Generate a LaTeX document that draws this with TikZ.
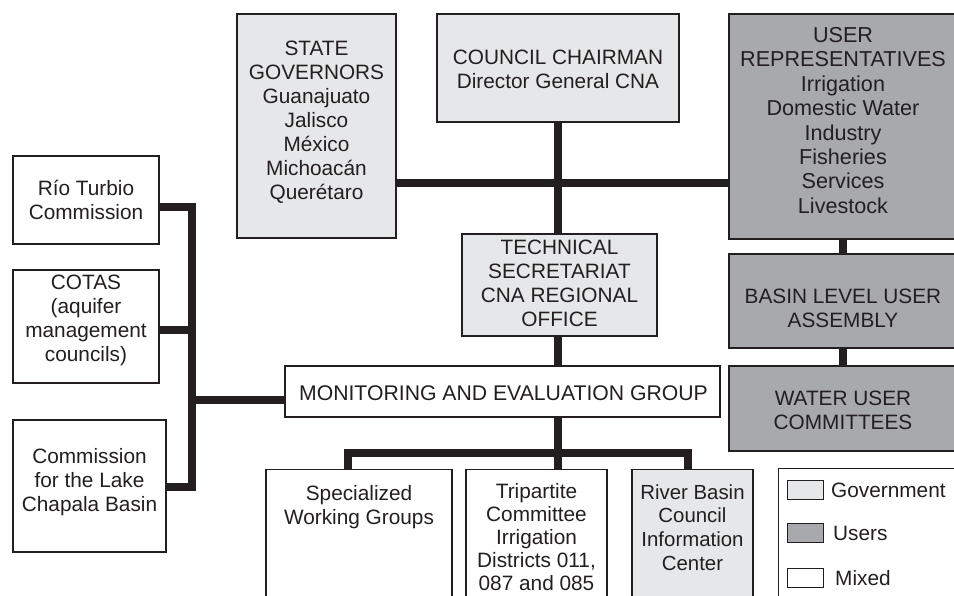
\documentclass[tikz,border=0pt]{standalone}
\usepackage{fontspec}
\setmainfont{Liberation Sans}
\definecolor{govfill}{HTML}{E6E7E8}
\definecolor{userfill}{HTML}{A7A9AC}
\definecolor{ink}{HTML}{231F20}
\begin{document}
\begin{tikzpicture}[x=1pt,y=-1pt,
  box/.style={draw=ink, line width=1.2pt, rectangle, inner sep=0pt},
  gov/.style={box, fill=govfill},
  usr/.style={box, fill=userfill},
  mix/.style={box, fill=white},
  txt/.style={inner sep=0pt, align=center, text=ink, font=\fontsize{20.8}{24}\selectfont},
  conn/.style={draw=ink, line width=8pt, line join=miter},
  swatch/.style={draw=ink, line width=1.2pt, rectangle, inner sep=0pt, minimum width=36pt, minimum height=19pt},
  lbl/.style={anchor=west, inner sep=0pt, font=\fontsize{20.8}{24}\selectfont, text=ink}]
\useasboundingbox (0,0) rectangle (954,596);
\clip (0,0) rectangle (954,596);
\fill[white] (0,0) rectangle (954,596);

% top row
\node[gov, minimum width=159pt, minimum height=224pt] (sg) at (316.5,126) {};
\node[txt] (sgT) at (316.5,122)
  {STATE\\GOVERNORS\\Guanajuato\\Jalisco\\México\\Michoacán\\Querétaro};
\node[gov, minimum width=242pt, minimum height=108pt] (cc) at (558,68) {};
\node[txt] (ccT) at (558,69.5) {COUNCIL CHAIRMAN\\Director General CNA};
\node[usr, minimum width=228pt, minimum height=225pt] (ur) at (843,126.5) {};
\node[txt, font=\fontsize{21.6}{24.4}\selectfont] (urT) at (843,120.5)
  {USER\\REPRESENTATIVES\\Irrigation\\Domestic Water\\Industry\\Fisheries\\Services\\Livestock};
\node[usr, minimum width=228pt, minimum height=94pt] (bl) at (843,301) {};
\node[txt] (blT) at (843,308) {BASIN LEVEL USER\\ASSEMBLY};
\node[usr, minimum width=228pt, minimum height=85pt] (wuc) at (843,408.5) {};
\node[txt] (wucT) at (843,410) {WATER USER\\COMMITTEES};

% middle
\node[gov, minimum width=195pt, minimum height=102pt] (ts) at (559.5,285) {};
\node[txt] (tsT) at (559.5,283.5) {TECHNICAL\\SECRETARIAT\\CNA REGIONAL\\OFFICE};
\node[mix, minimum width=435pt, minimum height=51pt] (mon) at (502.5,391.5) {};
\node[txt, font=\fontsize{21.2}{24}\selectfont] (monT) at (503.5,393) {MONITORING AND EVALUATION GROUP};

% left column
\node[mix, minimum width=146pt, minimum height=88pt] (rt) at (86,200) {};
\node[txt] (rtT) at (86,200) {Río Turbio\\Commission};
\node[mix, minimum width=146pt, minimum height=113pt] (cot) at (86,326.5) {};
\node[txt] (cotT) at (86,320.5) {COTAS\\(aquifer\\management\\councils)};
\node[mix, minimum width=153pt, minimum height=132pt] (com) at (89.5,486) {};
\node[txt] (comT) at (89.5,482.5) {Commission\\for the Lake\\Chapala Basin};

% bottom row (boxes run past the lower edge)
\node[mix, minimum width=186pt, minimum height=160pt, anchor=north] (sp) at (359,469) {};
\node[txt] (spT) at (359,507.5) {Specialized\\Working Groups};
\node[mix, minimum width=141pt, minimum height=160pt, anchor=north] (tri) at (536.5,469) {};
\node[txt, font=\fontsize{20.8}{23}\selectfont] (triT) at (536.5,537) {Tripartite\\Committee\\Irrigation\\Districts 011,\\087 and 085};
\node[gov, minimum width=121pt, minimum height=160pt, anchor=north] (rb) at (692.5,469) {};
\node[txt, font=\fontsize{20.4}{23.7}\selectfont] (rbT) at (692.5,527.5) {River Basin\\Council\\Information\\Center};

% legend
\node[mix, minimum width=200pt, minimum height=160pt, anchor=north west] (leg) at (778,468) {};
\node[swatch, fill=govfill, anchor=north west] (sw1) at (787,480) {};
\node[swatch, fill=userfill, anchor=north west] (sw2) at (787,523) {};
\node[swatch, fill=white, anchor=north west] (sw3) at (787,568) {};
\node[lbl] (l1) at (831,490) {Government};
\node[lbl] (l2) at (833,533) {Users};
\node[lbl] (l3) at (835,578) {Mixed};

% connectors
\coordinate (hy) at (0,183);
\draw[conn] (sg.east |- hy) -- (ur.west |- hy);
\draw[conn] (cc.south) -- (cc.south |- ts.north);
\draw[conn] (cc.south |- ts.south) -- (cc.south |- mon.north);
\draw[conn] (ur.south) -- (bl.north);
\draw[conn] (bl.south) -- (wuc.north);

\coordinate (vx) at (192,0);
\draw[conn] (rt.east |- 0,207) -- (vx |- 0,207) -- (vx |- 0,487) -- (com.east |- 0,487);
\draw[conn] (cot.east |- 0,330) -- (vx |- 0,330);
\draw[conn] (vx |- 0,400) -- (mon.west |- 0,400);

\coordinate (by) at (0,453);
\draw[conn] (sp.north -| 348,0) -- (348,453) -- (688,453) -- (rb.north -| 688,0);
\draw[conn] (cc.south |- mon.south) -- (cc.south |- tri.north);
\end{tikzpicture}
\end{document}
